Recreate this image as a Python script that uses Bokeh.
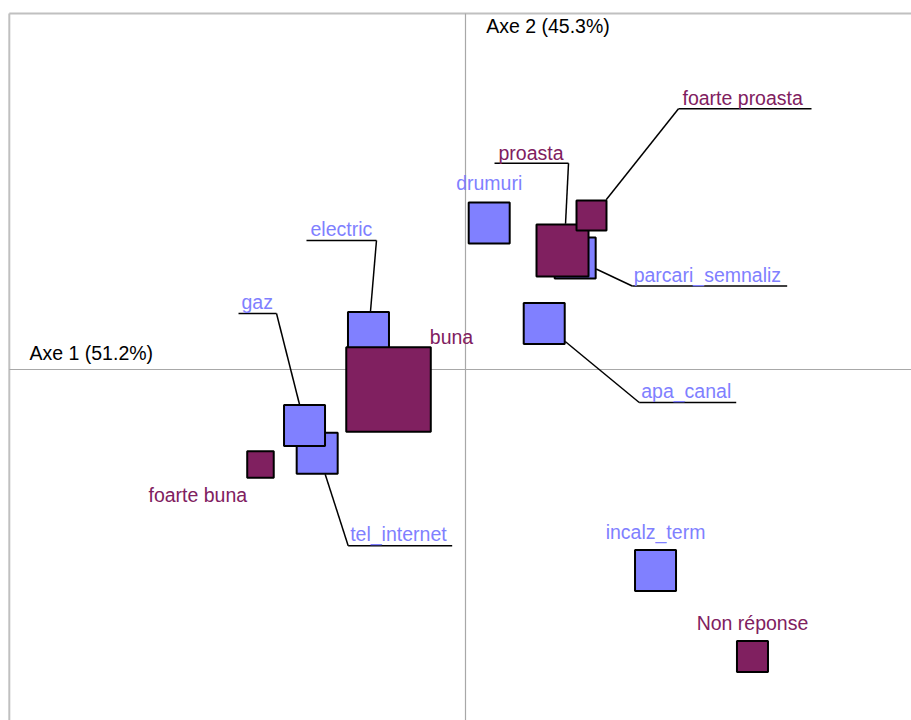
from bokeh.plotting import figure
from bokeh.models import Range1d
from bokeh.core.properties import value
from bokeh.embed import file_html
from bokeh.resources import INLINE
import math

# ---------------- data ----------------
axis1_label = "Axe 1 (51.2%)"
axis2_label = "Axe 2 (45.3%)"

active_names = ["drumuri", "parcari_semnaliz", "apa_canal", "incalz_term",
                "tel_internet", "gaz", "electric"]
active_x = [0.0395, 0.1828, 0.1312, 0.3167, -0.2472, -0.2683, -0.1617]
active_y = [0.2442, 0.1858, 0.0767, -0.3350, -0.1395, -0.0933, 0.0617]
active_weight = [1.0, 1.0, 1.0, 1.0, 1.0, 1.0, 1.0]

sup_names = ["buna", "proasta", "foarte proasta", "foarte buna", "Non réponse"]
sup_x = [-0.1283, 0.1617, 0.2100, -0.3417, 0.4783]
sup_y = [-0.0333, 0.1983, 0.2567, -0.1583, -0.4783]
sup_weight = [4.25, 1.61, 0.535, 0.418, 0.572]

# ---------------- layout / style ----------------
W, H = 911, 720
S = 600.0                      # pixels per data unit
X0, X1 = -465 / S, (W - 465) / S
Y0, Y1 = (369 - H) / S, 369 / S

BLUE = "#8080FF"
PURPLE = "#802060"
FONT = value("Liberation Sans")
FSIZE = value("19.5px")
BASE_SIDE = 41
TSHIFT = -7                    # baseline correction (pixels, y down)

# label offsets in pixels relative to the point (y down)
label_layout = {
    "electric": dict(kind="under", tx=-58, ty=-96, u0=-62, u1=8, uy=-92, lx=8, ax=2, ay=-21),
    "gaz": dict(kind="under", tx=-63, ty=-116, u0=-66, u1=-28, uy=-112, lx=-28, ax=-5, ay=-21),
    "tel_internet": dict(kind="under", tx=33, ty=88, u0=31, u1=135, uy=92.5, lx=31, ax=8, ay=21),
    "parcari_semnaliz": dict(kind="under", tx=58.5, ty=24, u0=57, u1=212, uy=28, lx=57, ax=21, ay=11),
    "apa_canal": dict(kind="under", tx=97, ty=75, u0=95, u1=192, uy=79, lx=95, ax=21, ay=18),
    "proasta": dict(kind="under", tx=-64, ty=-91, u0=-68, u1=6, uy=-87.3, lx=6, ax=3, ay=-26.7),
    "foarte proasta": dict(kind="under", tx=91, ty=-110, u0=87, u1=220, uy=-106.7, lx=87, ax=14.7, ay=-15.7),
    "drumuri": dict(kind="plain", tx=0, ty=-32.5, align="center"),
    "incalz_term": dict(kind="plain", tx=0, ty=-32, align="center"),
    "Non réponse": dict(kind="plain", tx=0, ty=-26.7, align="center"),
    "buna": dict(kind="plain", tx=41.3, ty=-45.7, align="left"),
    "foarte buna": dict(kind="plain", tx=-112, ty=38, align="left"),
}

p = figure(width=W, height=H, x_range=Range1d(X0, X1), y_range=Range1d(Y0, Y1),
           output_backend="svg", toolbar_location=None,
           x_axis_location=None, y_axis_location=None, min_border=0,
           outline_line_color=None, background_fill_color="white")
p.grid.visible = False

# frame (top and left visible)
fx = X0 + 8.8 / S
fy = Y1 - 13 / S
p.line([fx, X1], [fy, fy], line_color="#c0c0c0", line_width=2)
p.line([fx, fx], [fy, Y0], line_color="#c0c0c0", line_width=2)

# axes through origin
p.line([fx, X1], [0, 0], line_color="#a8a8a8", line_width=1.2)
p.line([0, 0], [fy, Y0], line_color="#a8a8a8", line_width=1.2)

p.text([X0 + 29 / S], [(10 - TSHIFT) / S], text=[axis1_label], text_font=FONT,
       text_font_size=FSIZE, text_color="#000000", text_align="left",
       text_baseline="alphabetic")
p.text([20.7 / S], [Y1 - (32 + TSHIFT) / S], text=[axis2_label], text_font=FONT,
       text_font_size=FSIZE, text_color="#000000", text_align="left",
       text_baseline="alphabetic")


def px(x, dx):
    return x + dx / S


def py(y, dy):
    return y - dy / S


def draw_labels(names, xs, ys, color):
    for n, x, y in zip(names, xs, ys):
        L = label_layout[n]
        if L["kind"] == "under":
            p.line([px(x, L["u0"]), px(x, L["u1"])], [py(y, L["uy"])] * 2,
                   line_color="black", line_width=1.5)
            p.line([px(x, L["lx"]), px(x, L["ax"])], [py(y, L["uy"]), py(y, L["ay"])],
                   line_color="black", line_width=1.5)
            align = "left"
        else:
            align = L["align"]
        p.text([px(x, L["tx"])], [py(y, L["ty"] + TSHIFT)], text=[n], text_font=FONT,
               text_font_size=FSIZE, text_color=color, text_align=align,
               text_baseline="alphabetic")


# leaders and labels under squares
draw_labels(active_names, active_x, active_y, BLUE)
draw_labels(sup_names, sup_x, sup_y, PURPLE)

# squares
for xs, ys, ws, col in [(active_x, active_y, active_weight, BLUE),
                        (sup_x, sup_y, sup_weight, PURPLE)]:
    for x, y, w in zip(xs, ys, ws):
        p.scatter([x], [y], marker="square", size=BASE_SIDE * math.sqrt(w),
                  fill_color=col, line_color="black", line_width=2)

open("out.html", "w").write(file_html(p, INLINE))
